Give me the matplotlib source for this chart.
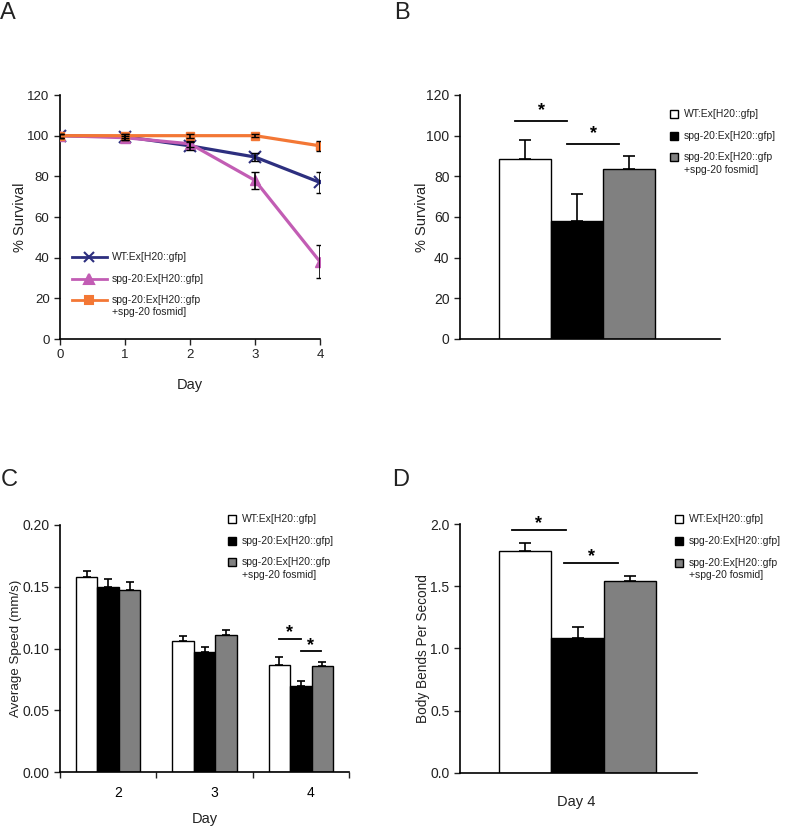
import matplotlib
matplotlib.use("Agg")
import matplotlib.pyplot as plt
import numpy as np
from matplotlib.patches import Rectangle
from matplotlib.lines import Line2D

plt.rcParams['font.family'] = ['Liberation Sans', 'DejaVu Sans']
plt.rcParams['font.size'] = 10

## donnees
labels = ['WT:Ex[H20::gfp]', 'spg-20:Ex[H20::gfp]', 'spg-20:Ex[H20::gfp\n+spg-20 fosmid]']

days_a = [0, 1, 2, 3, 4]
surv_wt = [100, 99.5, 95, 89.5, 77]
surv_wt_err = [1, 1.5, 2, 2, 5]
surv_spg = [100, 99, 96, 78, 38]
surv_spg_err = [1, 1, 1.5, 4, 8]
surv_res = [100, 100, 100, 100, 95]
surv_res_err = [1, 1, 1, 0.8, 2.5]

surv_day4 = [88.5, 58, 83.5]
surv_day4_err = [9.5, 13.5, 6.5]

days_c = ['2', '3', '4']
speed_wt = [0.158, 0.106, 0.087]
speed_wt_err = [0.005, 0.0045, 0.006]
speed_spg = [0.150, 0.0975, 0.070]
speed_spg_err = [0.006, 0.004, 0.004]
speed_res = [0.147, 0.111, 0.086]
speed_res_err = [0.0066, 0.0037, 0.003]

bends = [1.785, 1.081, 1.544]
bends_err = [0.062, 0.091, 0.04]

W, H = 790, 831
fig = plt.figure(figsize=(W / 100, H / 100), dpi=100)
txt = '#222222'

def fx(x):
    return x / W

def fy(y):
    return 1 - y / H

def axes_px(l, t, r, b):
    return fig.add_axes([fx(l), fy(b), (r - l) / W, (b - t) / H])

def style(ax, ls=10):
    ax.spines['top'].set_visible(False)
    ax.spines['right'].set_visible(False)
    ax.spines['left'].set_linewidth(1.2)
    ax.spines['bottom'].set_linewidth(1.2)
    ax.tick_params(direction='out', length=4, width=1, labelsize=ls, colors=txt)

fill_cols = ['white', 'black', '#808080']

def square_legend(x, ys, y2):
    for y, lab, c in zip(ys, labels, fill_cols):
        fig.patches.append(Rectangle((fx(x - 4), fy(y + 4)), 8 / W, 8 / H, facecolor=c,
                                     edgecolor='black', linewidth=1, transform=fig.transFigure))
        fig.text(fx(x + 10), fy(y), lab.split('\n')[0], fontsize=7.5, va='center', color=txt)
    fig.text(fx(x + 10), fy(y2), labels[2].split('\n')[1], fontsize=7.5, va='center', color=txt)

def signif(ax, x0, x1, y, ystar):
    ax.plot([x0, x1], [y, y], color='black', lw=1.3, clip_on=False)
    ax.text((x0 + x1) / 2, ystar, '*', ha='center', va='center', fontsize=13, fontweight='bold')

# ---------- A ----------
axA = axes_px(60, 95, 320, 339)
col_wt, col_spg, col_res = '#2d2f7f', '#c25db4', '#f37735'
axA.plot(days_a, surv_wt, color=col_wt, lw=2.3, marker='x', ms=8, mew=1.5, zorder=3)
axA.plot(days_a, surv_spg, color=col_spg, lw=2.3, marker='^', ms=7, zorder=3)
axA.plot(days_a, surv_res, color=col_res, lw=2.3, marker='s', ms=6, zorder=4)
for yv, ye in [(surv_wt, surv_wt_err), (surv_spg, surv_spg_err), (surv_res, surv_res_err)]:
    axA.errorbar(days_a, yv, yerr=ye, fmt='none', ecolor='black', elinewidth=1.2, capsize=3, zorder=5)
axA.set_xlim(0, 4)
axA.set_ylim(0, 120)
axA.set_xticks(days_a)
axA.set_yticks(np.arange(0, 121, 20))
style(axA, 9.5)
axA.set_xlabel('Day', fontsize=10.5, color=txt)
axA.xaxis.set_label_coords(0.5, -0.16)
axA.set_ylabel('% Survival', fontsize=10.5, color=txt)
axA.yaxis.set_label_coords(-0.125, 0.5)
for y, c, m, ms in [(257, col_wt, 'x', 7), (279, col_spg, '^', 6.5), (300, col_res, 's', 5.5)]:
    fig.lines.append(Line2D([fx(72), fx(107)], [fy(y), fy(y)], color=c, lw=2,
                            transform=fig.transFigure))
    fig.lines.append(Line2D([fx(89)], [fy(y)], color=c, marker=m, ms=ms, mew=1.5,
                            transform=fig.transFigure))
for y, lab in zip([257, 279, 300], labels):
    fig.text(fx(112), fy(y), lab.split('\n')[0], fontsize=7.5, va='center', color=txt)
fig.text(fx(112), fy(312), labels[2].split('\n')[1], fontsize=7.5, va='center', color=txt)

# ---------- B ----------
axB = axes_px(460, 95, 720, 339)
xb = np.arange(3)
axB.bar(xb, surv_day4, width=1, color=fill_cols, edgecolor='black', linewidth=1)
axB.errorbar(xb, surv_day4, yerr=[np.zeros(3), surv_day4_err], fmt='none', ecolor='black',
             elinewidth=1.2, capsize=4, capthick=1.2)
axB.set_xlim(-1.25, 3.75)
axB.set_ylim(0, 120)
axB.set_yticks(np.arange(0, 121, 20))
axB.set_xticks([])
style(axB)
axB.set_ylabel('% Survival', fontsize=10.5, color=txt)
axB.yaxis.set_label_coords(-0.12, 0.5)
signif(axB, -0.19, 0.81, 107.2, 112.5)
signif(axB, 0.81, 1.81, 96, 101)
square_legend(674, [114, 136, 157], 170)

# ---------- C ----------
axC = axes_px(60, 525, 349, 772)
xc = np.arange(3)
bw = 0.222
for i, (vals, errs) in enumerate([(speed_wt, speed_wt_err), (speed_spg, speed_spg_err),
                                  (speed_res, speed_res_err)]):
    pos = xc + (i - 1) * bw
    axC.bar(pos, vals, width=bw, color=fill_cols[i], edgecolor='black', linewidth=1)
    axC.errorbar(pos, vals, yerr=[np.zeros(3), errs], fmt='none', ecolor='black',
                 elinewidth=1.2, capsize=3, capthick=1.2)
axC.set_xlim(-0.5, 2.5)
axC.set_ylim(0, 0.2)
axC.set_yticks([0, 0.05, 0.10, 0.15, 0.20])
axC.set_yticklabels(['0.00', '0.05', '0.10', '0.15', '0.20'])
axC.set_xticks([-0.5, 0.5, 1.5, 2.5])
axC.set_xticklabels([])
axC.set_xticks(xc + 0.1, minor=True)
axC.set_xticklabels(days_c, minor=True)
style(axC)
axC.tick_params(axis='x', which='minor', length=0, pad=10, labelsize=10)
axC.set_xlabel('Day', fontsize=10.5, color=txt)
axC.xaxis.set_label_coords(0.5, -0.16)
axC.set_ylabel('Average Speed (mm/s)', fontsize=9.6, color=txt)
axC.yaxis.set_label_coords(-0.13, 0.5)
signif(axC, 1.77, 2.0, 0.1077, 0.1125)
signif(axC, 2.0, 2.21, 0.0982, 0.1025)
square_legend(232, [519, 541, 562], 575)

# ---------- D ----------
axD = axes_px(460, 524, 697, 772.7)
xd = np.arange(3)
axD.bar(xd, bends, width=1, color=fill_cols, edgecolor='black', linewidth=1)
axD.errorbar(xd, bends, yerr=[np.zeros(3), bends_err], fmt='none', ecolor='black',
             elinewidth=1.2, capsize=4, capthick=1.2)
axD.set_xlim(-1.245, 3.28)
axD.set_ylim(0, 2.0)
axD.set_yticks([0, 0.5, 1.0, 1.5, 2.0])
axD.set_yticklabels(['0.0', '0.5', '1.0', '1.5', '2.0'])
axD.set_xticks([])
style(axD)
axD.set_xlabel('Day 4', fontsize=10.5, color=txt)
axD.xaxis.set_label_coords(0.49, -0.09)
axD.set_ylabel('Body Bends Per Second', fontsize=9.8, color=txt)
axD.yaxis.set_label_coords(-0.125, 0.5)
signif(axD, -0.25, 0.77, 1.954, 2.0)
signif(axD, 0.75, 1.77, 1.689, 1.735)
square_legend(679, [519, 541, 563], 575)

# lettres des panneaux
for x, y, s in [(0, 19, 'A'), (394, 19, 'B'), (1, 486, 'C'), (392, 486, 'D')]:
    fig.text(fx(x), fy(y), s, fontsize=17, va='baseline', ha='left', color=txt)

fig.savefig('out.png', dpi=100)
